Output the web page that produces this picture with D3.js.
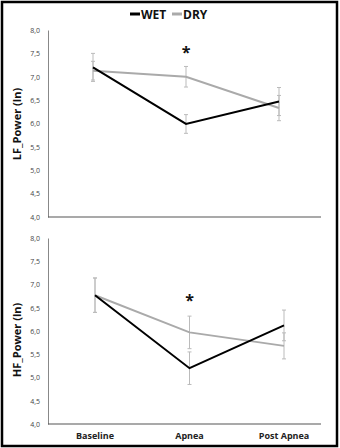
<!DOCTYPE html>
<html><head><meta charset="utf-8">
<script src="https://cdn.jsdelivr.net/npm/d3@7"></script>
<style>body{margin:0;background:#fff}svg{display:block}</style>
</head><body>
<svg id="c" width="340" height="448"></svg>
<script>
const categories = ["Baseline", "Apnea", "Post Apnea"];
const seriesNames = ["WET", "DRY"];
const lfWet = [7.2, 5.99, 6.47];
const lfDry = [7.13, 7.0, 6.33];
const lfWetErr = [0.3, 0.2, 0.3];
const lfDryErr = [0.2, 0.22, 0.27];
const hfWet = [6.77, 5.2, 6.12];
const hfDry = [6.77, 5.97, 5.68];
const hfWetErr = [0.37, 0.35, 0.33];
const hfDryErr = [0.37, 0.35, 0.28];
const yTicks = [4.0, 4.5, 5.0, 5.5, 6.0, 6.5, 7.0, 7.5, 8.0];
const panelTitles = ["LF_Power (ln)", "HF_Power (ln)"];
const sigMark = ["Apnea", "Apnea"];

const svg = d3.select("#c");
svg.append("rect").attr("x",2).attr("y",2).attr("width",335).attr("height",444)
  .attr("fill","none").attr("stroke","#000").attr("stroke-width",2.5);

const colors = {WET:"#000", DRY:"#aaa"};
const fmt = d => d3.format(".1f")(d).replace(".", ",");

// legend
const lg = svg.append("g");
const legendItems = [{n:"WET", x:130},{n:"DRY", x:172}];
legendItems.forEach(it=>{
  lg.append("line").attr("x1",it.x).attr("x2",it.x+10).attr("y1",14).attr("y2",14)
    .attr("stroke",colors[it.n]).attr("stroke-width",3);
  lg.append("text").attr("x",it.x+11).attr("y",18.5).text(it.n)
    .attr("font-family","Open Sans, sans-serif").attr("font-weight","bold").attr("font-size",12).attr("fill","#111");
});

const panels = [
  {top:30, bottom:217, xr:[93,279], wet:lfWet, dry:lfDry, we:lfWetErr, de:lfDryErr, title:panelTitles[0], sig:sigMark[0], sigY:50, titleY:124},
  {top:238, bottom:424, xr:[95,284], wet:hfWet, dry:hfDry, we:hfWetErr, de:hfDryErr, title:panelTitles[1], sig:sigMark[1], sigY:298, titleY:340}
];

panels.forEach((p, pi)=>{
  const g = svg.append("g");
  const y = d3.scaleLinear().domain([4,8]).range([p.bottom, p.top]);
  const x = d3.scalePoint().domain(categories).range(p.xr);
  // y axis
  const ya = g.append("g").attr("transform","translate(48,0)")
    .call(d3.axisLeft(y).tickValues(yTicks).tickFormat(fmt).tickSize(0).tickPadding(8));
  ya.select(".domain").attr("stroke","#888").attr("stroke-width",1);
  ya.selectAll("text").attr("font-family","Open Sans, sans-serif").attr("font-size",7).attr("fill","#444");
  // x axis line
  g.append("line").attr("x1",48).attr("x2",321).attr("y1",p.bottom).attr("y2",p.bottom)
    .attr("stroke","#555").attr("stroke-width",1.2);
  // title
  g.append("text").attr("transform",`translate(21,${p.titleY}) rotate(-90)`).attr("text-anchor","middle")
    .text(p.title).attr("font-family","Open Sans, sans-serif").attr("font-weight","bold").attr("font-size",11).attr("fill","#111");
  // error bars
  const errs = [];
  categories.forEach((c,i)=>{
    errs.push({c, v:p.dry[i], e:p.de[i]});
    errs.push({c, v:p.wet[i], e:p.we[i]});
  });
  errs.forEach(d=>{
    const cx = x(d.c);
    g.append("line").attr("x1",cx).attr("x2",cx).attr("y1",y(d.v-d.e)).attr("y2",y(d.v+d.e))
      .attr("stroke","#bbb").attr("stroke-width",1);
    [d.v-d.e, d.v+d.e].forEach(v=>{
      g.append("line").attr("x1",cx-2).attr("x2",cx+2).attr("y1",y(v)).attr("y2",y(v))
        .attr("stroke","#bbb").attr("stroke-width",1);
    });
  });
  const line = d3.line().x((d,i)=>x(categories[i])).y(d=>y(d));
  g.append("path").datum(p.dry).attr("d",line).attr("fill","none").attr("stroke",colors.DRY).attr("stroke-width",2);
  g.append("path").datum(p.wet).attr("d",line).attr("fill","none").attr("stroke",colors.WET).attr("stroke-width",2);
  // significance
  g.append("text").attr("x",x(p.sig)).attr("y",p.sigY+8).attr("text-anchor","middle").text("*")
    .attr("font-family","Open Sans, sans-serif").attr("font-weight","bold").attr("font-size",16).attr("fill","#111");
  if (pi===1) {
    categories.forEach(c=>{
      g.append("text").attr("x",x(c)).attr("y",439).attr("text-anchor","middle").text(c)
        .attr("font-family","Open Sans, sans-serif").attr("font-weight","bold").attr("font-size",9).attr("fill","#222");
    });
  }
});
</script>
</body></html>
